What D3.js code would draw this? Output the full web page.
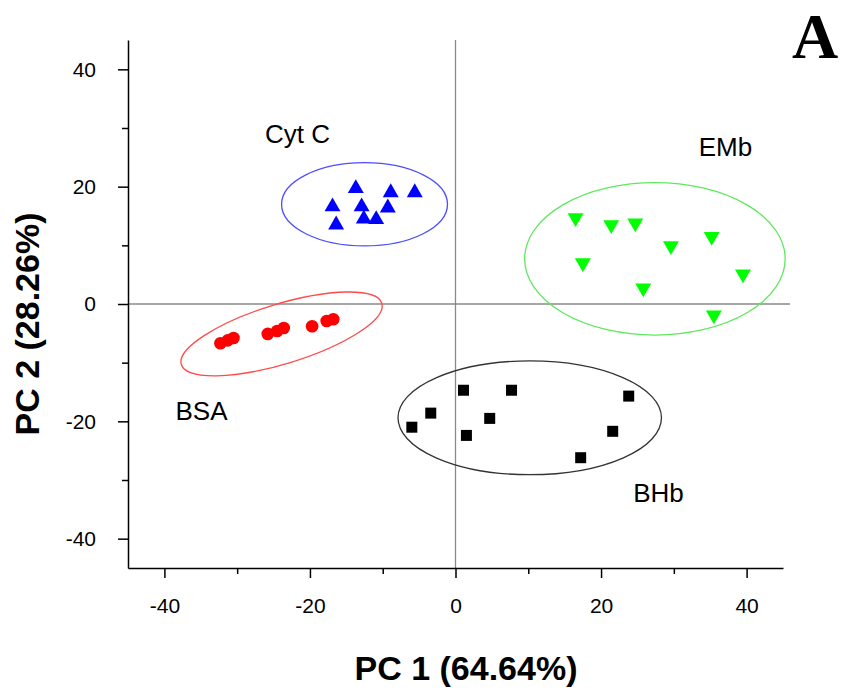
<!DOCTYPE html>
<html><head><meta charset="utf-8">
<script src="https://cdn.jsdelivr.net/npm/d3@7"></script>
<style>body{margin:0;background:#fff}svg{display:block}</style>
</head><body><svg id="c" width="842" height="695"></svg>
<script>
// ---- data ----
const bsaX = [-32.3,-31.3,-30.5,-25.8,-24.5,-23.6,-19.7,-17.7,-16.8];
const bsaY = [-6.7,-6.2,-5.8,-5.1,-4.6,-4.1,-3.8,-2.9,-2.6];
const cytX = [-13.7,-8.9,-5.6,-16.9,-12.9,-9.3,-16.4,-12.6,-10.9];
const cytY = [19.7,19.0,19.0,16.6,16.6,16.4,13.5,14.5,14.4];
const embX = [16.5,21.4,24.7,29.6,35.2,17.5,25.8,39.5,35.5];
const embY = [14.7,13.5,13.8,9.9,11.5,7.0,2.7,5.1,-1.9];
const bhbX = [1.1,7.7,23.8,-3.4,4.7,-6.0,1.5,21.6,17.2];
const bhbY = [-14.7,-14.7,-15.7,-18.6,-19.5,-21.0,-22.4,-21.7,-26.2];
// confidence ellipses: centre, semi-axes (data units), tilt (deg)
const ellBSA = [-23.9,-5.1,14.4,5.1,17];
const ellCyt = [-12.5,17.0,11.4,7.1,0];
const ellEMb = [27.4,7.7,17.9,13.0,0];
const ellBHb = [10.2,-19.4,18.1,9.7,0];
const xMajor = [-40,-20,0,20,40];
const yMajor = [-40,-20,0,20,40];
const xMinor = [-30,-10,10,30];
const yMinor = [-30,-10,10,30];
const groupNames = ["BSA","Cyt C","EMb","BHb"];
const labelPos = [[-34.9,-18.3],[-21.7,28.9],[37.1,26.8],[27.9,-32.3]];

const svg = d3.select("#c");
const font = "'Liberation Sans', Arial, sans-serif";
const x = d3.scaleLinear().domain([-45,45]).range([128,783]);
const y = d3.scaleLinear().domain([-45,45]).range([568,40]);

// reference lines
svg.append("line").attr("x1",x(-45)).attr("x2",790).attr("y1",y(0)).attr("y2",y(0))
  .attr("stroke","#8a8a8a").attr("stroke-width",1.3);
svg.append("line").attr("x1",x(0)).attr("x2",x(0)).attr("y1",y(45)).attr("y2",y(-45))
  .attr("stroke","#8a8a8a").attr("stroke-width",1.3);

// axes
const fmt = d => String(d);
function styleAxis(g){
  g.select(".domain").attr("stroke","#000").attr("stroke-width",1.5);
  g.selectAll(".tick line").attr("stroke","#000").attr("stroke-width",1.5);
  g.selectAll("text").attr("font-family",font).attr("font-size",21).attr("fill","#000");
}
const gx = svg.append("g").attr("transform",`translate(0,${y(-45)})`)
  .call(d3.axisBottom(x).tickValues(xMajor).tickSize(10).tickSizeOuter(0).tickPadding(20).tickFormat(fmt));
styleAxis(gx);
svg.append("g").attr("transform",`translate(0,${y(-45)})`)
  .call(d3.axisBottom(x).tickValues(xMinor).tickSize(6).tickFormat("")).call(g=>{g.select(".domain").remove();g.selectAll("line").attr("stroke","#000").attr("stroke-width",1.5);});
const gy = svg.append("g").attr("transform",`translate(${x(-45)},0)`)
  .call(d3.axisLeft(y).tickValues(yMajor).tickSize(10).tickSizeOuter(0).tickPadding(22).tickFormat(fmt));
styleAxis(gy);
svg.append("g").attr("transform",`translate(${x(-45)},0)`)
  .call(d3.axisLeft(y).tickValues(yMinor).tickSize(6).tickFormat("")).call(g=>{g.select(".domain").remove();g.selectAll("line").attr("stroke","#000").attr("stroke-width",1.5);});

// ellipses
function ell(p,color){
  const cx=x(p[0]), cy=y(p[1]);
  svg.append("ellipse").attr("cx",cx).attr("cy",cy)
    .attr("rx",x(p[2])-x(0)).attr("ry",y(0)-y(p[3]))
    .attr("transform",`rotate(${-p[4]},${cx},${cy})`)
    .attr("fill","none").attr("stroke",color).attr("stroke-width",1.3);
}
ell(ellBSA,"#ff4a4a");
ell(ellCyt,"#4d4dff");
ell(ellEMb,"#5ee85e");
ell(ellBHb,"#333333");

// markers
const sym = {
  circle: d3.symbol().type(d3.symbolCircle).size(125),
  up: d3.symbol().type(d3.symbolTriangle).size(110),
  square: d3.symbol().type(d3.symbolSquare).size(121)
};
function pts(xs,ys,path,color,flip){
  svg.append("g").selectAll("path").data(xs.map((v,i)=>[v,ys[i]])).join("path")
    .attr("d",path).attr("fill",color)
    .attr("transform",d=>`translate(${x(d[0])},${y(d[1])})${flip?" rotate(180)":""}`);
}
pts(bsaX,bsaY,sym.circle(),"#ff0000",false);
pts(cytX,cytY,sym.up(),"#0000ff",false);
pts(embX,embY,sym.up(),"#00ff00",true);
pts(bhbX,bhbY,sym.square(),"#000000",false);

// group labels
svg.append("g").selectAll("text").data(groupNames).join("text")
  .attr("x",(d,i)=>x(labelPos[i][0])).attr("y",(d,i)=>y(labelPos[i][1]))
  .attr("text-anchor","middle").attr("dominant-baseline","central")
  .attr("font-family",font).attr("font-size",26).text(d=>d);

// axis titles
svg.append("text").attr("x",466).attr("y",680).attr("text-anchor","middle")
  .attr("font-family",font).attr("font-weight","bold").attr("font-size",34).text("PC 1 (64.64%)");
svg.append("text").attr("transform",`translate(39,324) rotate(-90)`).attr("text-anchor","middle")
  .attr("font-family",font).attr("font-weight","bold").attr("font-size",34).text("PC 2 (28.26%)");
// panel letter
svg.append("text").attr("x",815).attr("y",58).attr("text-anchor","middle")
  .attr("font-family","'Liberation Serif', 'Times New Roman', serif").attr("font-weight","bold").attr("font-size",64).text("A");
</script></body></html>
